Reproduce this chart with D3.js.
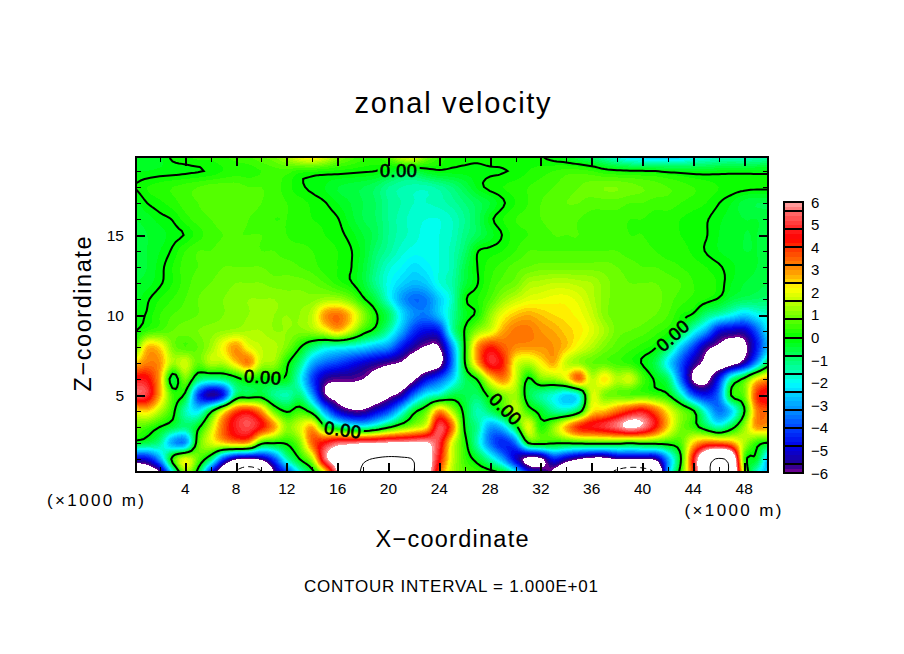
<!DOCTYPE html>
<html><head><meta charset="utf-8">
<script src="https://cdnjs.cloudflare.com/ajax/libs/d3/7.8.5/d3.min.js"></script>
<style>html,body{margin:0;padding:0;background:#fff}svg{display:block}text{font-family:"Liberation Sans",sans-serif;fill:#000}</style>
</head><body><svg id="c" width="904" height="654"></svg>
<script>
// zonal velocity: one array per height z (km), x = 0..50 km every 1 km
const z20=[-.3,-.3,-.3,.1,.2,.3,.3,.4,.5,.6, .8,1,1.5,2.2,2.5,2,1.2,.8,.5,.4, .8,1.8,2,1,.4,.1,.1,.1,.2,.2, .2,.1,0,-.2,-.4,-.7,-1,-1.5,-2,-2.5, -2.6,-2.8,-2.8,-2.6,-2.2,-2,-1.8,-1.7,-1.8,-1.6, -1.5];
const z19=[-.2,-.2,-.15,-.1,-.07,-.03,.05,.2,.3,.3, .4,.5,.5,.3,.25,.2,.15,.1,.05,0, -.2,-.5,-.5,-.2,-.05,-.08,-.1,-.1,-.05,-.02, .05,.2,.3,.4,.5,.5,.4,.2,.1,.05, .02,-.01,-.1,-.15,-.2,-.2,-.15,-.12,-.12,-.12, -.12];
const z18=[0,.2,.3,.4,.5,.6,.7,.7,.7,.6, .6,.5,.3,.05,-.05,-.2,-.4,-.5,-.6,-.8, -1.2,-1.4,-1.5,-1.5,-1.3,-1,-.6,-.15,.1,.2, .3,.4,.5,.6,.7,.8,.9,1,1,.9, .8,.7,.6,.5,.4,.3,.2,.15,.1,.08, .08];
const z17=[-.3,0,.15,.3,.5,.6,.7,.7,.7,.7, .6,.5,.4,.3,.15,.02,-.2,-.4,-.6,-.8, -1.2,-1.4,-1.6,-1.6,-1.5,-1.3,-1,-.7,-.4,-.05, .2,.4,.6,.7,.8,.8,.7,.7,.7,.6, .6,.5,.5,.4,.3,.2,.01,-.2,-.5,-.6, -.6];
const z16=[-.4,-.3,-.1,.02,.3,.5,.6,.7,.7,.6, .5,.4,.4,.3,.2,.15,.02,-.3,-.6,-.8, -1.2,-1.5,-1.7,-1.8,-1.8,-1.6,-1.2,-.7,-.1,.2, .4,.5,.6,.7,.7,.6,.5,.5,.5,.4, .4,.3,.3,.2,.1,.03,-.15,-.3,-.4,-.4, -.5];
const z15=[-.5,-.4,-.3,-.1,.02,.3,.5,.6,.6,.6, .6,.5,.4,.3,.3,.2,.1,-.1,-.4,-.7, -1.2,-1.5,-1.7,-1.9,-1.8,-1.6,-1.1,-.7,-.3,.02, .3,.4,.5,.6,.6,.6,.5,.5,.5,.4, .4,.3,.3,.2,.1,.02,-.2,-.3,-.4,-.4, -.5];
const z14=[-.5,-.4,-.2,.05,.4,.6,.6,.7,.7,.7, .6,.6,.5,.5,.4,.3,.2,.03,-.3,-.9, -1.3,-1.7,-1.9,-1.9,-1.8,-1.5,-.9,-.03,.1,.2, .4,.6,.6,.6,.6,.6,.6,.6,.6,.5, .5,.4,.3,.3,.15,-.02,-.2,-.3,-.4,-.4, -.5];
const z13=[-.5,-.4,-.1,.2,.5,.6,.7,.8,.8,.8, .8,.7,.7,.6,.5,.3,.2,.03,-.4,-1.1, -1.7,-2,-2.3,-2.1,-1.8,-1.5,-.6,0,.3,.5, .7,.8,.9,.9,.9,.9,.9,.9,.8,.7, .6,.6,.5,.4,.3,.2,.05,-.15,-.3,-.4, -.5];
const z12=[-.4,-.3,-.05,.2,.5,.7,.8,.9,1,1, 1,.9,.9,.9,.8,.6,.3,.05,-.4,-1.2, -1.9,-2.4,-2.7,-2.5,-1.8,-1.4,-.5,-.02,.4,.7, .9,1.4,1.5,1.6,1.6,1.5,1.4,1.1,.9,.8, .8,.8,.7,.6,.4,.3,.15,-.2,-.4,-.5, -.6];
const z11=[-.3,-.05,.2,.4,.6,.8,.9,1,1.1,1.2, 1.2,1.2,1.1,1.1,1.1,1.3,1.3,.9,.1,-.6, -1.8,-3,-3.6,-3.4,-2.5,-1.6,-.1,.2,.6,1.2, 1.6,1.9,2,2.1,2.1,1.9,1.5,1.1,.9,.9, 1,.9,.7,.5,.35,.2,-.05,-.5,-.7,-.8, -.9];
const z10=[-.2,.05,.4,.6,.7,.8,.9,1,1.1,1.2, 1.3,1.2,1.2,1.2,1.6,3,3.4,2.6,1.2,.1, -.7,-2.2,-3.2,-3.4,-2.6,-1.4,-.3,.15,1.2,2.1, 2.6,2.8,2.6,2.4,2.3,2.1,1.7,1.1,.9,.9, .9,.8,.6,.2,-.1,-1,-1.5,-2,-2.5,-2, -1.6];
const z09=[-.05,.4,.6,.8,.9,1,1.1,1.2,1.3,1.4, 1.4,1.2,1.2,1.1,1.3,1.9,2.6,1.7,.4,-.3, -1.4,-2.8,-4.2,-4.8,-4.5,-1.5,.05,1.2,1.8,2.8, 3.3,3.3,3,2.8,2.5,2.3,1.9,1.4,.9,.8, .7,.5,.25,-.3,-1.8,-3,-4.8,-5.2,-5.2,-3.8, -2];
const z08=[.5,2.6,2.4,1,.6,.8,1.3,2.2,3,2, 1.6,1.5,1,.1,-.9,-1.6,-1.8,-2,-2.3,-2.8, -3.2,-4.5,-5.5,-6.1,-6,-3.2,0,3,4.2,3.6, 3.1,3,3,3,2.6,2,1.5,1,.7,.5, .3,.05,-.7,-2.5,-4,-5.6,-6.2,-6.6,-6.3,-4.5, -2.5];
const z07=[2.5,3.2,3,1.4,1.8,.8,1.5,1.5,2.5,3.2, 1.5,1.3,.15,-1,-2.8,-3.6,-4,-4.5,-5,-5.4, -5.8,-6.1,-6.8,-7,-6.5,-3.6,-.05,2.8,4.8,4.2, 2,1.5,2.2,2.8,1.6,1.2,.8,.7,.5,.3, -.05,-.6,-2.2,-3.8,-5.4,-6.3,-7,-6.6,-5.4,-3, -.5];
const z06=[4.6,4.5,2.8,-.5,1,-.8,-1.2,-1,-.3,.3, -.02,-.05,-.2,-1.8,-4,-5.5,-5.8,-5.8,-6,-6.5, -6.8,-7,-6.2,-4.8,-3.8,-2.5,-.8,.1,2.2,3.2, 1.8,-.1,1,1.2,2,3.6,1.6,2.4,1.5,1.8, .6,-.1,-.8,-3.5,-6.2,-6.4,-4.5,-1.2,.3,2.2, 3];
const z05=[5.4,5,2.8,.5,-.2,-4,-5.6,-4.6,-.9,-.6, -.4,-1.2,-1.5,-1,-3,-5.9,-6.4,-6.5,-6.8,-6.8, -6.3,-5.5,-3.5,-2,-1.5,-.6,-.6,-.8,.3,1, 1.3,-.5,-1.3,-1.8,-2.4,-1.8,1.8,1,.8,.6, .6,.4,.05,-1.5,-3.8,-4.6,-3.5,.1,.8,4, 4.8];
const z04=[2.2,2.5,1.5,.3,-1.5,-2.2,-.3,2,3.8,4.2, 3,.8,-.1,.4,-.5,-3,-5,-5.8,-5.8,-5, -4,-2.2,-.3,.8,3,1.5,-.3,-1.5,-.8,.3, 1.5,.4,-.3,-1.2,-1.4,-.5,2.2,2.6,3.4,4.2, 4.6,3.6,2.2,1,.1,-2,-3.5,-2.5,-.1,3.2, 3.5];
const z03=[.8,.5,0,-.5,-1,-.2,1.5,3.5,4.8,5.2, 4.4,3,1.2,1.8,2.8,.2,-.8,-1.5,-1.8,-1.2, -.2,.7,1.4,2.2,5.3,3.5,-.1,-1.2,-3,-2.5, -.4,2,.2,1.2,2.8,4.2,4.6,5,5.6,6.3, 5.8,4.4,2.5,1,.4,-.6,-1.5,-.4,1.2,3, 2.8];
const z02=[-.3,-.6,-1.2,-3,-3.2,.5,1.8,2.5,3,2.8, .3,.05,.1,1,3.5,4.6,5.5,5.7,5.9,6, 6.2,6.2,6.3,6.2,5,2,.3,-1.5,-3.5,-4.4, -3.5,0,.3,.1,.1,.2,.3,.3,.3,.1, .3,.3,.3,.6,2.5,3.5,3.5,3,1.5,.3, -.1];
const z01=[-5,-4.8,-3,.3,2,.8,-.8,-4,-5.8,-6.2, -5.6,-4,-1.5,0,1.5,5.5,7,8,9.5,10.2, 10.5,10.4,9.8,7,4.5,1.8,.5,-.3,-1.5,-3, -5,-6.5,-6.3,-4.5,-5.3,-6,-6.5,-6.5,-5.9,-5.9, -5.9,-5.7,-3,-.1,4.5,8.5,10.2,8.5,.6,-.3, -3];
const z00=[-8,-7.5,-6.5,-2.5,1,-.5,-5,-8,-11,-13, -11,-6.2,-4.5,-2.2,-.6,1.5,6,8.5,10.5,12, 12,12,10,7.5,3.5,1.5,.8,.6,.5,.1, -1.5,-4,-5,-6.5,-8,-8.5,-9,-9,-11.5,-13, -12.5,-10,-3,.5,4,9,11,9,1.5,-2, -2.5];
const rows=[z20,z19,z18,z17,z16,z15,z14,z13,z12,z11,z10,z09,z08,z07,z06,z05,z04,z03,z02,z01,z00];

const xMajor=[4,8,12,16,20,24,28,32,36,40,44,48];
const xMinor=[2,6,10,14,18,22,26,30,34,38,42,46];
const zMajor=[5,10,15];
const zMinor=[1,2,3,4,6,7,8,9,11,12,13,14,16,17,18,19];
const barLabels=[-6,-5,-4,-3,-2,-1,0,1,2,3,4,5,6];
const barEdges=[-6,-5.6,-4.8,-4,-3.2,-2.4,-1.6,-.8,0,.8,1.6,2.4,3.2,4,4.8,5.6,6];
const shadeValues=[-6,-5.6,-4.8,-4,-3.2,-2.4,-2,-1.6,-.8,0,.8,1.6,2.2,2.4,2.8,3.2,4,4.4,4.8,5.6,6];
const shadeColors=["#800090","#200090","#0000e8","#0040ff","#0090ff","#00d8ff","#00ffff","#00ffc0","#00ff60","#00ff00","#60ff00","#c0ff00","#ffff00","#ffe000","#ffa800","#ff8000","#ff3000","#ff0000","#ff2020","#ff7070","#ffa8a8"];
const zeroLabelX=[20.8,10.1,16.4,29.2,42.4];
const zeroLabelZ=[19,6.1,2.8,4.1,8.7];
const zeroLabelAngle=[0,4,8,45,-42];

const W=904,H=654,L=136,R=768,T=157,B=472;
const svg=d3.select("#c");
const x=d3.scaleLinear().domain([.125,49.875]).range([L,R]);
const y=d3.scaleLinear().domain([.1875,19.875]).range([B,T]);
const color=d3.scaleLinear().domain(shadeValues).range(shadeColors).interpolate(d3.interpolateRgb);

// Catmull-Rom resampling so the contour outlines are drawn smooth between the read values
const f=4, nx=rows[0].length, ny=rows.length;
const gw=(nx-1)*f+1, gh=(ny-1)*f+1, grid=new Float64Array(gw*gh);
const cr=(a,b,c,d,t)=>.5*(2*b+(c-a)*t+(2*a-5*b+4*c-d)*t*t+(3*b-a-3*c+d)*t*t*t);
const at=(j,i)=>rows[Math.max(0,Math.min(ny-1,j))][Math.max(0,Math.min(nx-1,i))];
for(let gj=0;gj<gh;gj++){const j=Math.floor(gj/f),v=gj/f-j;
 for(let gi=0;gi<gw;gi++){const i=Math.floor(gi/f),u=gi/f-i;
  const c=[-1,0,1,2].map(d=>cr(at(j+d,i-1),at(j+d,i),at(j+d,i+1),at(j+d,i+2),u));
  grid[gj*gw+gi]=cr(c[0],c[1],c[2],c[3],v);
 }}
const path=d3.geoPath(d3.geoTransform({point(px,py){
  this.stream.point(x((px-.5)/f),y(20-(py-.5)/f));
}}));
const contours=d3.contours().size([gw,gh]).smooth(true);

const defs=svg.append("defs");
defs.append("clipPath").attr("id","plot").append("rect").attr("x",L).attr("y",T).attr("width",R-L).attr("height",B-T);
const mask=defs.append("mask").attr("id","gaps").attr("maskUnits","userSpaceOnUse").attr("x",0).attr("y",0).attr("width",W).attr("height",H);
mask.append("rect").attr("x",L).attr("y",T).attr("width",R-L).attr("height",B-T).attr("fill","#fff");
zeroLabelX.forEach((v,i)=>{
  mask.append("rect").attr("x",-21).attr("y",-9).attr("width",42).attr("height",18).attr("fill","#000")
   .attr("transform",`translate(${x(v)},${y(zeroLabelZ[i])}) rotate(${zeroLabelAngle[i]})`);
});

const g=svg.append("g").attr("clip-path","url(#plot)");
g.append("rect").attr("x",L).attr("y",T).attr("width",R-L).attr("height",B-T).attr("fill","#fff");
const N=60, step=12/N;
const levels=d3.range(N).map(i=>-6+i*step);
levels.forEach(t=>{
  g.append("path").datum(contours.contour(grid,t)).attr("d",path)
   .attr("fill",color(t+step/2)).attr("shape-rendering","crispEdges");
});
g.append("path").datum(contours.contour(grid,6)).attr("d",path).attr("fill","#fff").attr("shape-rendering","crispEdges");
g.append("path").datum(contours.contour(grid,0)).attr("d",path).attr("fill","none").attr("stroke","#000").attr("stroke-width",2).attr("mask","url(#gaps)");
g.append("path").datum(contours.contour(grid,10)).attr("d",path).attr("fill","none").attr("stroke","#000").attr("stroke-width",1);
g.append("path").datum(contours.contour(grid,-10)).attr("d",path).attr("fill","none").attr("stroke","#000").attr("stroke-width",1).attr("stroke-dasharray","6 4");

zeroLabelX.forEach((v,i)=>{
  svg.append("text").text("0.00").attr("text-anchor","middle").attr("dominant-baseline","central")
   .attr("font-size",18).attr("stroke","#000").attr("stroke-width",.7).attr("letter-spacing",.6)
   .attr("transform",`translate(${x(v)},${y(zeroLabelZ[i])}) rotate(${zeroLabelAngle[i]})`);
});

// axes: inward ticks on all four sides
function tickAxis(axis,vals,size,sw,tx,ty){
  const a=svg.append("g").attr("transform",`translate(${tx},${ty})`)
   .call(axis.tickValues(vals).tickSizeInner(size).tickSizeOuter(0).tickFormat(""));
  a.select(".domain").remove();
  a.selectAll("line").attr("stroke","#000").attr("stroke-width",sw).attr("shape-rendering","crispEdges");
  a.selectAll("text").remove();
}
tickAxis(d3.axisBottom(x),xMajor,-9,2,0,B);
tickAxis(d3.axisBottom(x),xMinor,-5,1,0,B);
tickAxis(d3.axisTop(x),xMajor,-9,2,0,T);
tickAxis(d3.axisTop(x),xMinor,-5,1,0,T);
tickAxis(d3.axisLeft(y),zMajor,-9,2,L,0);
tickAxis(d3.axisLeft(y),zMinor,-5,1,L,0);
tickAxis(d3.axisRight(y),zMajor,-9,2,R,0);
tickAxis(d3.axisRight(y),zMinor,-5,1,R,0);
svg.append("rect").attr("x",L).attr("y",T).attr("width",R-L).attr("height",B-T).attr("fill","none").attr("stroke","#000").attr("stroke-width",2);

xMajor.forEach(v=>svg.append("text").text(v).attr("x",x(v)).attr("y",494).attr("text-anchor","middle").attr("font-size",15.5));
zMajor.forEach(v=>svg.append("text").text(v).attr("x",124).attr("y",y(v)+5.5).attr("text-anchor","end").attr("font-size",15.5));

function label(s,px,py,size,len,rot){
  const t=svg.append("text").text(s).attr("text-anchor","middle").attr("font-size",size)
   .attr("textLength",len).attr("lengthAdjust","spacing");
  if(rot) t.attr("transform",`translate(${px},${py}) rotate(${rot})`); else t.attr("x",px).attr("y",py);
}
label("zonal velocity",452.5,113,29,196);
label("X\u2212coordinate",452,547,23.5,153);
label("Z\u2212coordinate",91,314,23.5,155,-90);
label("(\u00d71000 m)",95.5,506,17,97);
label("(\u00d71000 m)",733,516,17,97);
label("CONTOUR INTERVAL = 1.000E+01",451,592,17,294);

// colour bar
const by=d3.scaleLinear().domain([-6,6]).range([473,202]);
const bar=svg.append("g");
d3.range(0,60).forEach(i=>{
  const a=-6+i*.2;
  bar.append("rect").attr("x",784).attr("width",19).attr("y",by(a+.2)).attr("height",by(a)-by(a+.2)+.5)
   .attr("fill",color(a+.1)).attr("shape-rendering","crispEdges");
});
barEdges.forEach(v=>bar.append("line").attr("x1",783).attr("x2",804).attr("y1",by(v)).attr("y2",by(v))
  .attr("stroke","#000").attr("stroke-width",2).attr("shape-rendering","crispEdges"));
bar.append("rect").attr("x",784).attr("y",by(6)).attr("width",19).attr("height",by(-6)-by(6)).attr("fill","none").attr("stroke","#000").attr("stroke-width",2).attr("shape-rendering","crispEdges");
barLabels.forEach(v=>svg.append("text").text(v<0?"\u2212"+(-v):v).attr("x",811).attr("y",by(v)+5.5).attr("font-size",15));
</script></body></html>
